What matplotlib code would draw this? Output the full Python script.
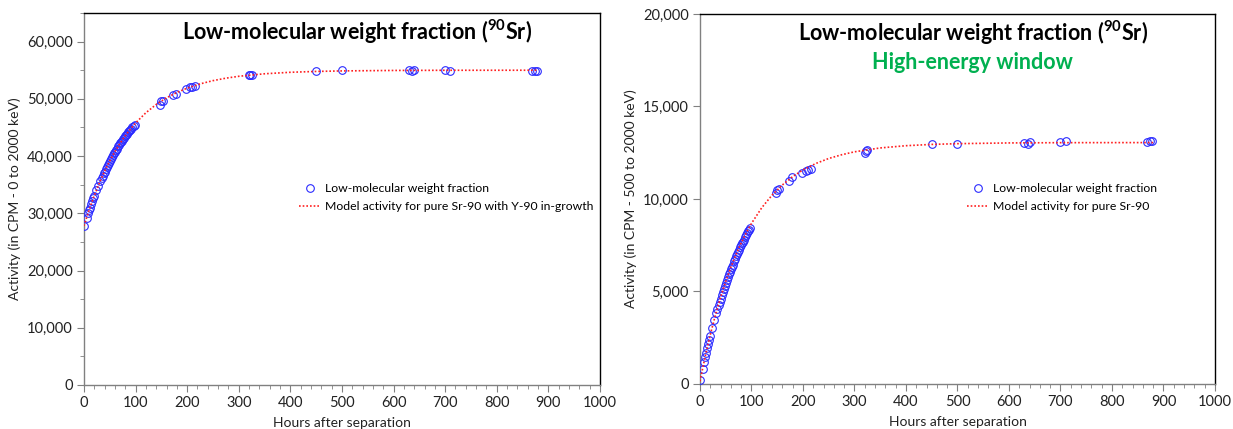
import matplotlib
matplotlib.use("Agg")
import matplotlib.pyplot as plt
from matplotlib.ticker import MultipleLocator, FuncFormatter

plt.rcParams["font.family"] = ["Lato", "DejaVu Sans"]
plt.rcParams["mathtext.fontset"] = "custom"
plt.rcParams["mathtext.rm"] = "Lato:bold"
plt.rcParams["mathtext.bf"] = "Lato:bold"

# measured points (hours after separation)
hours = [0, 5, 8, 10, 12, 14, 16, 18, 20, 24, 28, 32, 34, 36, 38, 40, 42, 44, 46, 48,
         50, 52, 54, 56, 58, 60, 62, 64, 66, 68, 70, 72, 74, 76, 78, 80, 82, 84, 86, 88,
         90, 92, 94, 96, 98,
         148, 150, 153, 172, 178, 198, 205, 210, 215, 320, 322, 325,
         450, 500, 630, 636, 640, 700, 710, 868, 874, 878]

cpm_total = [27800, 29200, 30100, 30600, 31000, 31700, 32100, 32600, 33000, 34000,
             34800, 35700, 36200, 36500, 37000, 37300, 37700, 38100, 38400, 38800,
             39100, 39500, 39800, 40100, 40500, 40700, 41100, 41300, 41700, 41900,
             42200, 42500, 42700, 43000, 43200, 43500, 43700, 43900, 44200, 44400,
             44600, 44800, 45000, 45200, 45350,
             49000, 49600, 49600, 50600, 50900, 51700, 52000, 52100, 52300, 54100, 54200, 54100,
             54900, 55000, 55100, 54900, 55000, 55000, 54900, 54900, 54900, 54800]

cpm_high = [200, 800, 1200, 1450, 1700, 1950, 2150, 2400, 2600, 3050,
            3450, 3850, 4050, 4250, 4450, 4600, 4800, 4950, 5150, 5300,
            5450, 5600, 5800, 5950, 6050, 6200, 6350, 6450, 6650, 6750,
            6900, 7000, 7150, 7250, 7400, 7500, 7600, 7700, 7800, 7950,
            8050, 8150, 8250, 8350, 8430,
            10320, 10480, 10530, 10950, 11180, 11430, 11500, 11550, 11600, 12500, 12600, 12650,
            12970, 12980, 13000, 12980, 13100, 13100, 13120, 13080, 13120, 13130]

# model curves
model_hours = [0, 10, 20, 30, 40, 50, 60, 70, 80, 90, 100, 120, 140, 160, 180, 200,
               225, 250, 275, 300, 350, 400, 450, 500, 600, 700, 800, 880]
model_total = [27800, 30590, 33090, 35340, 37350, 39160, 40780, 42240, 43550, 44720,
               45780, 47570, 49020, 50180, 51120, 51870, 52610, 53180, 53610, 53940,
               54380, 54640, 54790, 54880, 54960, 54990, 54995, 55000]
model_high = [150, 1470, 2660, 3730, 4680, 5540, 6310, 7000, 7620, 8180, 8680, 9530,
              10210, 10760, 11210, 11570, 11920, 12190, 12390, 12550, 12760, 12880,
              12950, 12990, 13030, 13044, 13047, 13049]

BLUE = "#2B2BFF"
RED = "#FF2020"
GREEN = "#00B050"
SPINE = "#808080"

fig = plt.figure(figsize=(12.33, 4.29), dpi=100)
ax1 = fig.add_axes([0.0681, 0.1026, 0.4185, 0.8671])
ax2 = fig.add_axes([0.5677, 0.1049, 0.4177, 0.8625])

comma = FuncFormatter(lambda v, p: f"{int(v):,}")


def style_axes(ax, ymax, ymajor, yminor):
    ax.set_xlim(0, 1000)
    ax.set_ylim(0, ymax)
    ax.xaxis.set_major_locator(MultipleLocator(100))
    ax.xaxis.set_minor_locator(MultipleLocator(20))
    ax.yaxis.set_major_locator(MultipleLocator(ymajor))
    if yminor:
        ax.yaxis.set_minor_locator(MultipleLocator(yminor))
    ax.yaxis.set_major_formatter(comma)
    ax.tick_params(axis="both", which="major", direction="out", length=5,
                   color=SPINE, labelsize=10.5, labelcolor="#222222", pad=3)
    ax.tick_params(axis="both", which="minor", direction="out", length=3, color=SPINE)
    for side in ("left", "bottom"):
        ax.spines[side].set_color(SPINE)
        ax.spines[side].set_linewidth(1.0)
    for side in ("top", "right"):
        ax.spines[side].set_color("black")
        ax.spines[side].set_linewidth(1.0)
    ax.set_xlabel("Hours after separation", fontsize=10, color="#222222", labelpad=5)


def draw_panel(ax, values, model, model_label, leg_anchor):
    ax.plot(hours, values, linestyle="none", marker="o", markersize=5.5,
            markerfacecolor="none", markeredgecolor=BLUE, markeredgewidth=0.8,
            label="Low-molecular weight fraction", zorder=3)
    ax.plot(model_hours, model, linestyle=(0, (1, 1.2)), color=RED, linewidth=1.2,
            label=model_label, zorder=4)
    ax.legend(loc="upper left", bbox_to_anchor=leg_anchor, bbox_transform=fig.transFigure,
              frameon=False, fontsize=8.8, handlelength=1.75, handletextpad=0.35,
              labelspacing=0.6, borderpad=0, borderaxespad=0)


style_axes(ax1, 65000, 10000, 5000)
draw_panel(ax1, cpm_total, model_total,
           "Model activity for pure Sr-90 with Y-90 in-growth", (0.2425, 0.5734))
ax1.set_ylabel("Activity (in CPM - 0 to 2000 keV)", fontsize=10, color="#222222", labelpad=4)
ax1.text(0.53, 0.949, r"Low-molecular weight fraction ($^{90}$Sr)", transform=ax1.transAxes,
         ha="center", va="center", fontsize=15.5, fontweight="bold")

style_axes(ax2, 20000, 5000, None)
draw_panel(ax2, cpm_high, model_high, "Model activity for pure Sr-90", (0.7843, 0.5734))
ax2.set_ylabel("Activity (in CPM - 500 to 2000 keV)", fontsize=10, color="#222222", labelpad=4)
ax2.text(0.53, 0.949, r"Low-molecular weight fraction ($^{90}$Sr)", transform=ax2.transAxes,
         ha="center", va="center", fontsize=15.5, fontweight="bold")
ax2.text(0.53, 0.870, "High-energy window", transform=ax2.transAxes,
         ha="center", va="center", fontsize=15.5, fontweight="bold", color=GREEN)

fig.savefig("out.png", dpi=100)
